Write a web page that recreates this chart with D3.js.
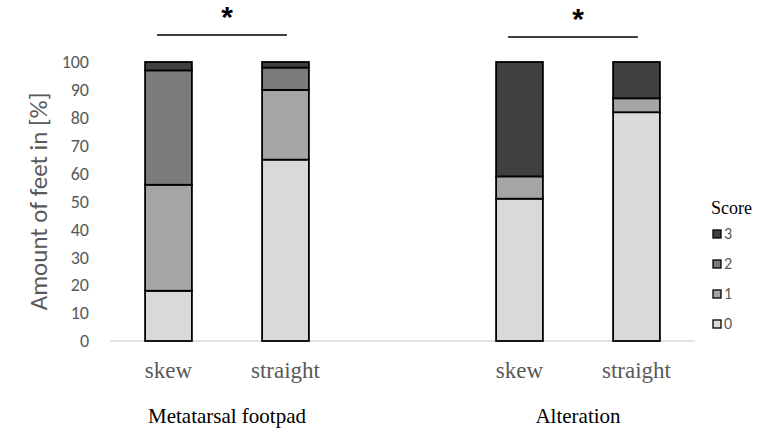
<!DOCTYPE html>
<html>
<head>
<meta charset="utf-8">
<script src="https://cdn.jsdelivr.net/npm/d3@7"></script>
<style>
  body { margin: 0; background: #fff; }
  svg { display: block; }
  .tick text { fill: #595959; }
</style>
</head>
<body>
<div id="chart"></div>
<script>
// data
var groups = ['Metatarsal footpad', 'Alteration'];
var conditions = ['skew', 'straight'];
var scores = ['0', '1', '2', '3'];
// one value per bar: footpad skew, footpad straight, alteration skew, alteration straight
var score0 = [18, 65, 51, 82];
var score1 = [38, 25, 8, 5];
var score2 = [41, 8, 0, 0];
var score3 = [3, 2, 41, 13];
var yTicks = [0, 10, 20, 30, 40, 50, 60, 70, 80, 90, 100];
var scoreColors = ['#d9d9d9', '#a5a5a5', '#7b7b7b', '#404040'];

var width = 765, height = 430;
var margin = {left: 110, right: 70, top: 62, bottom: 89};
var sansFont = 'Carlito, "Open Sans", sans-serif';
var serifFont = '"Liberation Serif", "Times New Roman", serif';

var svg = d3.select('#chart').append('svg')
  .attr('width', width)
  .attr('height', height);

// build bar rows, with an empty slot between the two groups
var bars = [];
groups.forEach(function (g, gi) {
  conditions.forEach(function (c, ci) {
    var i = gi * conditions.length + ci;
    bars.push({key: g + '|' + c, group: g, cond: c,
      '0': score0[i], '1': score1[i], '2': score2[i], '3': score3[i]});
  });
});
var slots = [bars[0].key, bars[1].key, 'gap', bars[2].key, bars[3].key];

var x = d3.scaleBand()
  .domain(slots)
  .range([margin.left, width - margin.right])
  .paddingInner(0.6)
  .paddingOuter(0.3);

var y = d3.scaleLinear()
  .domain([0, 100])
  .range([height - margin.bottom, margin.top]);

var color = d3.scaleOrdinal().domain(scores).range(scoreColors);

// y axis: labels only
var yAxis = svg.append('g')
  .attr('transform', 'translate(' + (margin.left - 21) + ',0)')
  .call(d3.axisLeft(y).tickValues(yTicks).tickSize(0).tickPadding(0));
yAxis.select('.domain').remove();
yAxis.selectAll('text')
  .style('font-family', sansFont)
  .style('font-size', '18px');

svg.append('text')
  .attr('transform', 'translate(47,' + ((y(0) + y(100)) / 2) + ') rotate(-90)')
  .attr('text-anchor', 'middle')
  .style('font-family', sansFont)
  .style('font-size', '25px')
  .style('fill', '#595959')
  .text('Amount of feet in [%]');

// baseline
svg.append('line')
  .attr('x1', margin.left).attr('x2', width - margin.right)
  .attr('y1', y(0)).attr('y2', y(0))
  .attr('stroke', '#d9d9d9')
  .attr('stroke-width', 1.5);

// stacked bars
var series = d3.stack().keys(scores)(bars);
svg.append('g').selectAll('g')
  .data(series)
  .join('g')
  .attr('fill', function (d) { return color(d.key); })
  .selectAll('rect')
  .data(function (d) { return d.filter(function (p) { return p[1] - p[0] > 0; }); })
  .join('rect')
  .attr('x', function (d) { return x(d.data.key); })
  .attr('width', x.bandwidth())
  .attr('y', function (d) { return y(d[1]); })
  .attr('height', function (d) { return y(d[0]) - y(d[1]); })
  .attr('stroke', '#000')
  .attr('stroke-width', 1.8);

// category labels
svg.append('g').selectAll('text')
  .data(bars)
  .join('text')
  .attr('x', function (d) { return x(d.key) + x.bandwidth() / 2; })
  .attr('y', 378)
  .attr('text-anchor', 'middle')
  .style('font-family', serifFont)
  .style('font-size', '23px')
  .style('fill', '#595959')
  .text(function (d) { return d.cond; });

// group labels and significance brackets
groups.forEach(function (g, gi) {
  var k1 = g + '|' + conditions[0], k2 = g + '|' + conditions[1];
  var cx = (x(k1) + x(k2) + x.bandwidth()) / 2;
  var lineY = 35 + gi * 2;
  svg.append('text')
    .attr('x', cx)
    .attr('y', 423)
    .attr('text-anchor', 'middle')
    .style('font-family', serifFont)
    .style('font-size', '21px')
    .style('fill', '#000')
    .text(g);
  svg.append('line')
    .attr('x1', x(k1) + 12).attr('x2', x(k2) + x.bandwidth() - 22)
    .attr('y1', lineY).attr('y2', lineY)
    .attr('stroke', '#000')
    .attr('stroke-width', 1.5);
  svg.append('text')
    .attr('x', cx)
    .attr('y', lineY - 8)
    .attr('text-anchor', 'middle')
    .style('font-family', '"Liberation Sans", Arial, sans-serif')
    .style('font-size', '30px')
    .style('font-weight', 'bold')
    .style('fill', '#000')
    .text('*');
});

// legend
var legend = svg.append('g').attr('transform', 'translate(711,0)');
legend.append('text')
  .attr('x', 0).attr('y', 214)
  .style('font-family', serifFont)
  .style('font-size', '18px')
  .style('fill', '#000')
  .text('Score');
var items = legend.selectAll('g.item')
  .data(scores.slice().reverse())
  .join('g')
  .attr('class', 'item')
  .attr('transform', function (d, i) { return 'translate(2,' + (230 + i * 30) + ')'; });
items.append('rect')
  .attr('width', 8).attr('height', 8)
  .attr('fill', function (d) { return color(d); })
  .attr('stroke', '#000')
  .attr('stroke-width', 1.3);
items.append('text')
  .attr('x', 11).attr('y', 9)
  .style('font-family', sansFont)
  .style('font-size', '16px')
  .style('fill', '#595959')
  .text(function (d) { return d; });
</script>
</body>
</html>
